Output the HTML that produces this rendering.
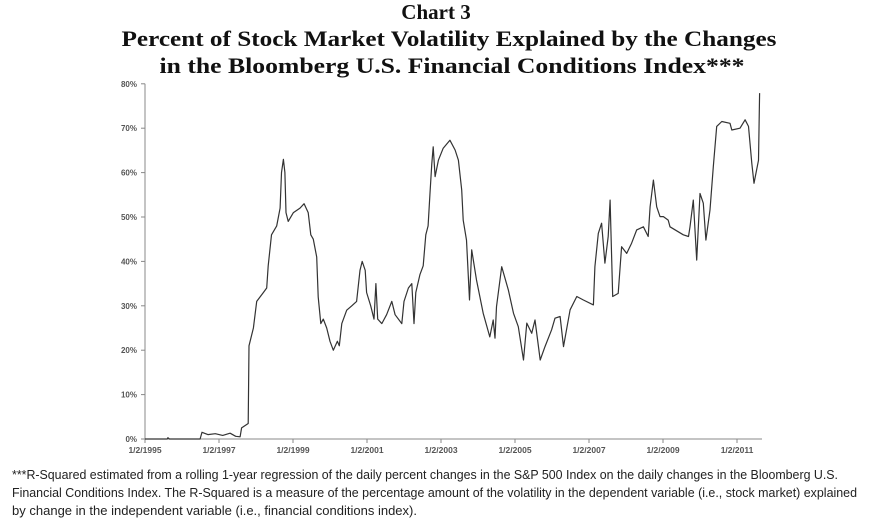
<!DOCTYPE html>
<html><head><meta charset="utf-8"><style>
html,body{margin:0;padding:0;background:#fff;width:869px;height:526px;overflow:hidden}
svg{display:block}
</style></head><body>
<svg id="chart" width="869" height="526" viewBox="0 0 869 526">
<g font-family="'Liberation Serif',serif" font-weight="bold" text-anchor="middle" fill="#111">
<text x="436" y="19" font-size="21">Chart 3</text>
<text x="449" y="46" font-size="22" textLength="655" lengthAdjust="spacingAndGlyphs">Percent of Stock Market Volatility Explained by the Changes</text>
<text x="452" y="73" font-size="22" textLength="585" lengthAdjust="spacingAndGlyphs">in the Bloomberg U.S. Financial Conditions Index***</text>
</g>
<g id="plot"></g>
<g font-family="'Liberation Sans Narrow','Liberation Sans',sans-serif" font-size="12.5" fill="#222">
<text x="12" y="479" textLength="826" lengthAdjust="spacingAndGlyphs">***R-Squared estimated from a rolling 1-year regression of the daily percent changes in the S&amp;P 500 Index on the daily changes in the Bloomberg U.S.</text>
<text x="12" y="497" textLength="845" lengthAdjust="spacingAndGlyphs">Financial Conditions Index. The R-Squared is a measure of the percentage amount of the volatility in the dependent variable (i.e., stock market) explained</text>
<text x="12" y="515" textLength="405" lengthAdjust="spacingAndGlyphs">by change in the independent variable (i.e., financial conditions index).</text>
</g>
</svg>
<script>
const years = [1995.0,1995.6,1995.62,1995.66,1996.49,1996.54,1996.7,1996.9,1997.1,1997.3,1997.45,1997.57,1997.61,1997.79,1997.81,1997.93,1998.02,1998.2,1998.29,1998.33,1998.42,1998.56,1998.65,1998.69,1998.74,1998.78,1998.81,1998.87,1999.01,1999.19,1999.3,1999.41,1999.48,1999.55,1999.64,1999.68,1999.75,1999.82,1999.91,2000.0,2000.09,2000.2,2000.25,2000.32,2000.45,2000.59,2000.72,2000.81,2000.87,2000.95,2000.99,2001.1,2001.19,2001.24,2001.29,2001.4,2001.53,2001.67,2001.76,2001.94,2002.0,2002.12,2002.21,2002.27,2002.32,2002.43,2002.52,2002.59,2002.65,2002.7,2002.75,2002.79,2002.84,2002.93,2003.06,2003.24,2003.38,2003.47,2003.56,2003.6,2003.69,2003.77,2003.83,2003.96,2004.14,2004.32,2004.41,2004.46,2004.5,2004.64,2004.82,2004.96,2005.09,2005.23,2005.32,2005.45,2005.54,2005.68,2005.81,2005.99,2006.08,2006.22,2006.31,2006.49,2006.67,2006.85,2007.12,2007.16,2007.25,2007.34,2007.43,2007.52,2007.57,2007.64,2007.79,2007.88,2008.02,2008.15,2008.29,2008.47,2008.6,2008.65,2008.74,2008.83,2008.92,2009.01,2009.14,2009.19,2009.55,2009.69,2009.73,2009.82,2009.91,2010.0,2010.09,2010.16,2010.27,2010.36,2010.45,2010.59,2010.81,2010.86,2011.08,2011.22,2011.31,2011.4,2011.46,2011.58,2011.61];
const values = [0,0,0.3,0,0,1.5,1.0,1.2,0.8,1.3,0.6,0.5,2.5,3.5,21,25,31,33,34,39,46,48,52,60,63,60,51,49,51,52,53,51,46,45,41,32,26,27,25,22,20,22,21,26,29,30,31,38,40,38,33,30,27,35,27,26,28,31,28,26,31,34,35,26,33,37,39,46,48,55,62,65.8,59.1,62.8,65.5,67.3,65.1,62.8,56.1,49.3,44.8,31.3,42.6,35.8,28.3,23.0,26.8,22.7,29.8,38.8,33.6,28.3,25.3,17.8,26.1,23.8,26.8,17.8,20.8,24.6,27.2,27.6,20.8,29.1,32.1,31.3,30.2,38.8,46.3,48.6,39.6,45.6,53.8,32.1,32.8,43.3,41.8,44.1,47.1,47.8,45.6,52.3,58.3,52.3,50.1,50.1,49.3,47.8,46.0,45.6,47.8,53.8,40.3,55.3,53.1,44.8,51.6,61.3,70.4,71.5,71.1,69.6,70.0,71.9,70.4,62.1,57.6,62.8,77.9];
const yTicks = [0,10,20,30,40,50,60,70,80];
const yTickLabels = ["0%","10%","20%","30%","40%","50%","60%","70%","80%"];
const xTicks = [1995,1997,1999,2001,2003,2005,2007,2009,2011];
const xTickLabels = ["1/2/1995","1/2/1997","1/2/1999","1/2/2001","1/2/2003","1/2/2005","1/2/2007","1/2/2009","1/2/2011"];

const NS='http://www.w3.org/2000/svg';
const g=document.getElementById('plot');
const X0=145, PXY=37, Y0=439, PXV=4.44;
const xs=v=>X0+(v-1995)*PXY;
const ys=v=>Y0-v*PXV;
function mk(t,a){const e=document.createElementNS(NS,t);for(const k in a)e.setAttribute(k,a[k]);g.appendChild(e);return e;}
let e=mk('line',{x1:X0,y1:ys(80),x2:X0,y2:Y0,stroke:'#888','stroke-width':1});


e=mk('line',{x1:X0,y1:Y0,x2:762,y2:Y0,stroke:'#888','stroke-width':1});


yTicks.forEach((v,i)=>{
  const t=mk('line',{x1:X0-4,y1:ys(v),x2:X0,y2:ys(v),stroke:'#888'});
  
  
  const l=mk('text',{x:X0-8,y:ys(v)+3,'text-anchor':'end','font-family':'Liberation Sans,sans-serif','font-size':8,'font-weight':'bold',fill:'#555'});
  l.textContent=yTickLabels[i];
  
  
});
xTicks.forEach((v,i)=>{
  const t=mk('line',{x1:xs(v),y1:Y0,x2:xs(v),y2:Y0+4,stroke:'#888'});
  
  
  const l=mk('text',{x:xs(v),y:Y0+14,'text-anchor':'middle','font-family':'Liberation Sans,sans-serif','font-size':8.5,'font-weight':'bold',fill:'#555'});
  l.textContent=xTickLabels[i];
  
  
});
const d=years.map((y,i)=>(i?'L':'M')+xs(y).toFixed(1)+','+ys(values[i]).toFixed(1)).join('');
const p=mk('path',{d:d,fill:'none',stroke:'#333','stroke-width':1.2,'stroke-linejoin':'round'});


</script>
</body></html>
